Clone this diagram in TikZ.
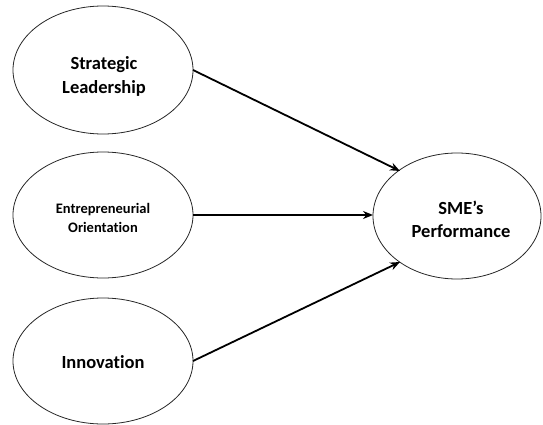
\documentclass[tikz,border=0pt]{standalone}
\usepackage{fontspec}
\setmainfont{Carlito}[Ligatures=NoCommon]
\usetikzlibrary{arrows.meta}
\begin{document}
\begin{tikzpicture}[x=1pt,y=-1pt,
  construct/.style={draw=black!85, line width=0.8pt},
  label/.style={align=center, inner sep=0pt},
  link/.style={line width=1.8pt, -{Stealth[length=10pt,width=8pt]}}]
\useasboundingbox (0,0) rectangle (543,425);
\draw[construct] (103,70) ellipse [x radius=90, y radius=64];
\node[label, font=\bfseries\fontsize{18.5}{24}\selectfont] (sl) at (104,76) {Strategic\\Leadership};
\draw[construct] (103,215) ellipse [x radius=90, y radius=63];
\node[label, font=\bfseries\fontsize{14.5}{19}\selectfont] (eo) at (103,218) {Entrepreneurial\\Orientation};
\draw[construct] (103,361) ellipse [x radius=90, y radius=63];
\node[label, font=\bfseries\fontsize{18.5}{22}\selectfont] (in) at (103,362) {Innovation};
\draw[construct] (457,216) ellipse [x radius=84, y radius=63];
\node[label, font=\bfseries\fontsize{18.5}{23}\selectfont] (sme) at (461,219) {SME’s\\Performance};
\coordinate (slr) at (193,70);
\coordinate (eor) at (193,215);
\coordinate (inr) at (193,361);
\coordinate (t1) at (400,171);
\coordinate (t2) at (373,215);
\coordinate (t3) at (400,262);
\draw[link] (slr) -- (t1);
\draw[link] (eor) -- (t2);
\draw[link] (inr) -- (t3);
\end{tikzpicture}
\end{document}
